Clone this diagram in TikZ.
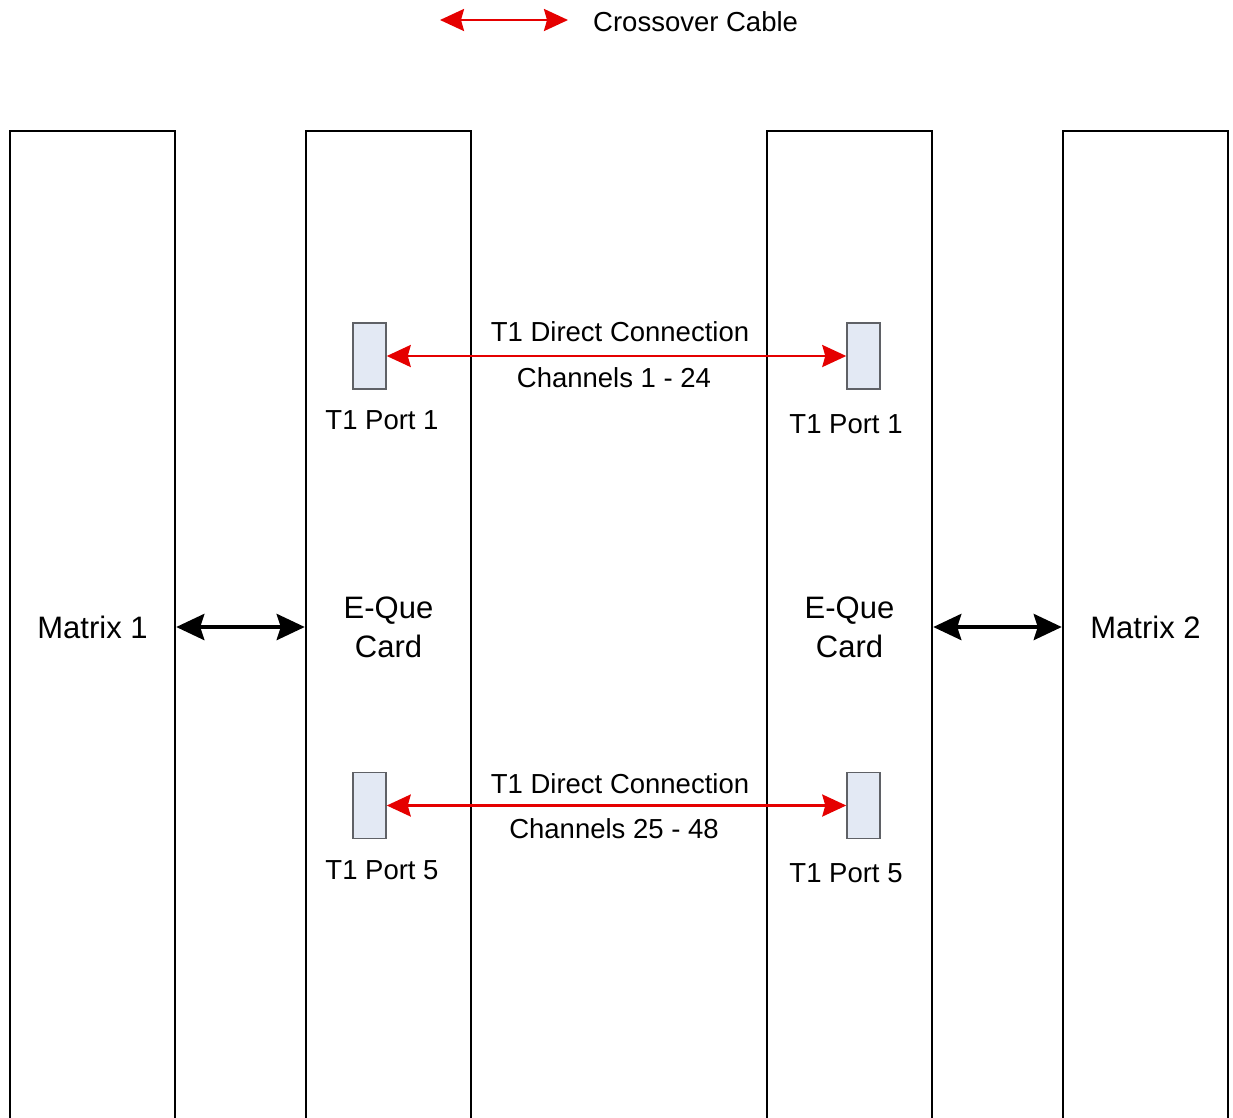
\documentclass[tikz,border=0pt]{standalone}
\usepackage{fontspec}
\setmainfont{Liberation Sans}
\usepackage{tikz}
\usetikzlibrary{positioning,arrows.meta,calc}
\definecolor{portfill}{HTML}{E3E9F4}
\definecolor{portline}{HTML}{5F6166}

\begin{document}
\begin{tikzpicture}[
  x=1pt, y=-1pt,
  card/.style={rectangle, draw, line width=2.5pt, minimum width=165pt, minimum height=992pt, inner sep=0pt, align=center, font=\fontsize{31}{39}\selectfont},
  port/.style={rectangle, draw=portline, fill=portfill, line width=1.5pt, minimum width=33pt, minimum height=66pt, inner sep=0pt},
  lbl/.style={font=\fontsize{27.5}{33}\selectfont, inner sep=0pt},
  cable/.style={<->, >={Stealth[length=24pt, width=22pt, inset=3pt]}, red!90!black, line width=2.5pt},
  link/.style={<->, >={Stealth[length=28pt, width=26pt, inset=4pt]}, line width=4pt}
]
\clip (0,0) rectangle (1233,1117);

% legend
\coordinate (lgA) at (440,20);
\coordinate (lgB) at (568,20);
\draw[cable] (lgA) -- (lgB);
\node[lbl, anchor=west] (lgtext) at (593,22) {Crossover Cable};

% matrices and cards
\node[card] (m1) at (92.5,627) {Matrix 1};
\node[card] (e1) at (388.5,627) {E-Que\\Card};
\node[card] (e2) at (849.5,627) {E-Que\\Card};
\node[card] (m2) at (1145.5,627) {Matrix 2};

\draw[link] (m1) -- (e1);
\draw[link] (e2) -- (m2);

% T1 ports
\node[port] (p1l) at (369.5,356) {};
\node[port] (p1r) at (863.5,356) {};
\node[port] (p5l) at (369.5,805.5) {};
\node[port] (p5r) at (863.5,805.5) {};

\node[lbl] (p1ltext) at (382,420) {T1 Port 1};
\node[lbl] (p1rtext) at (846,424) {T1 Port 1};
\node[lbl] (p5ltext) at (382,870) {T1 Port 5};
\node[lbl] (p5rtext) at (846,873) {T1 Port 5};

\draw[cable] (p1l) -- (p1r);
\draw[cable] (p5l) -- (p5r);

\node[lbl] (c1top) at (620,332) {T1 Direct Connection};
\node[lbl] (c1bot) at (614,378) {Channels 1 - 24};
\node[lbl] (c5top) at (620,784) {T1 Direct Connection};
\node[lbl] (c5bot) at (614,829) {Channels 25 - 48};
\end{tikzpicture}
\end{document}
